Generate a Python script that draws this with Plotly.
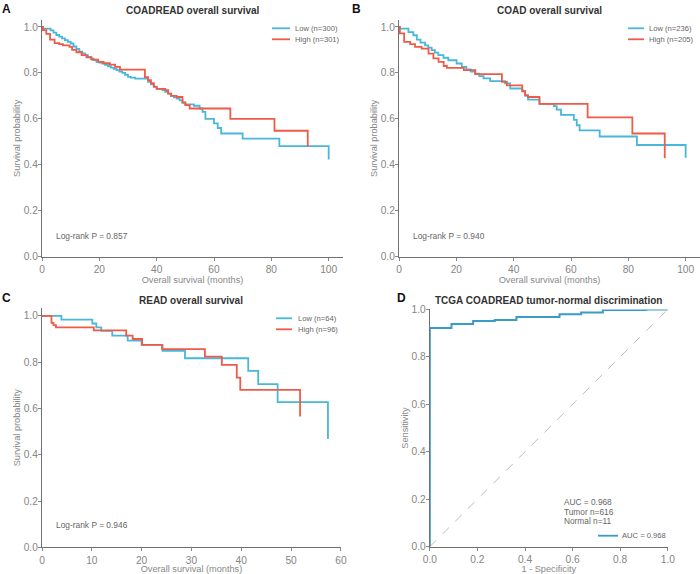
import plotly.graph_objects as go

# ---- panel A: COADREAD overall survival (Kaplan-Meier steps)
a_low_t = [0, 0.3, 3, 4, 5, 6, 7, 8, 9, 10, 11, 12, 13, 14, 15, 16, 17, 18, 19, 20,
           21, 22, 23, 24, 25, 26, 27, 28, 29, 30, 31, 32.5, 37, 38, 39, 40, 42, 43,
           44, 45, 46, 47, 48, 49, 50, 53, 55, 56, 57, 60, 61.3, 62.5, 70, 82.8, 100]
a_low_s = [1.0, 0.993, 0.985, 0.975, 0.965, 0.958, 0.95, 0.943, 0.935, 0.928, 0.915,
           0.905, 0.893, 0.885, 0.877, 0.87, 0.862, 0.856, 0.848, 0.845, 0.84, 0.835,
           0.829, 0.823, 0.818, 0.812, 0.806, 0.8, 0.792, 0.783, 0.779, 0.775, 0.761,
           0.75, 0.739, 0.73, 0.725, 0.718, 0.71, 0.7, 0.693, 0.688, 0.68, 0.67, 0.663,
           0.657, 0.645, 0.63, 0.6, 0.58, 0.56, 0.536, 0.514, 0.481, 0.423]
a_high_t = [0, 0.3, 1.5, 2.8, 4.4, 6, 7.3, 9.6, 10.5, 12, 13.8, 15.5, 17.3, 19.6, 21.5,
            23.7, 25.5, 27.2, 35.9, 37, 38, 39, 40, 43, 44, 45, 47, 49, 50, 51.5, 65.7,
            81.1, 92.7]
a_high_s = [1.0, 0.986, 0.97, 0.945, 0.93, 0.925, 0.92, 0.913, 0.9, 0.89, 0.877, 0.868,
            0.858, 0.848, 0.842, 0.836, 0.826, 0.814, 0.782, 0.768, 0.755, 0.74, 0.73,
            0.725, 0.71, 0.7, 0.695, 0.672, 0.66, 0.645, 0.6, 0.548, 0.478]

# ---- panel B: COAD overall survival
b_low_t = [0, 0.3, 3.3, 5, 6.2, 7.5, 9.1, 10.2, 11.4, 12.5, 13.7, 15.5, 17.2, 20.1,
           21.9, 23.5, 25, 26.6, 28, 29.5, 31.8, 37, 38.8, 43, 44, 45, 49, 54, 55,
           56.5, 61, 62, 63, 70, 83, 100]
b_low_s = [1.0, 0.993, 0.978, 0.964, 0.945, 0.932, 0.92, 0.91, 0.899, 0.888, 0.877,
           0.866, 0.855, 0.841, 0.826, 0.815, 0.806, 0.797, 0.786, 0.776, 0.764, 0.754,
           0.732, 0.722, 0.7, 0.684, 0.665, 0.655, 0.64, 0.617, 0.595, 0.572, 0.55,
           0.523, 0.486, 0.43]
b_high_t = [0, 0.3, 1.8, 3.9, 5.6, 7.9, 10.3, 12, 13.8, 15.6, 16.7, 22.6, 26.6, 35.9,
            37.6, 43, 44, 45, 49, 65.8, 81.4, 92.7]
b_high_s = [1.0, 0.972, 0.935, 0.925, 0.913, 0.906, 0.884, 0.863, 0.848, 0.83, 0.822,
            0.812, 0.795, 0.761, 0.746, 0.72, 0.703, 0.695, 0.665, 0.606, 0.536, 0.428]

# ---- panel C: READ overall survival
c_low_t = [0, 3.9, 10.1, 10.9, 11.9, 14.1, 17.2, 20, 24.2, 28.7, 41.4, 43.4, 47.3, 57.4]
c_low_s = [1.0, 0.984, 0.967, 0.95, 0.935, 0.915, 0.893, 0.875, 0.849, 0.817, 0.762,
           0.705, 0.627, 0.468]
c_high_t = [0, 1.9, 2.3, 2.8, 10.4, 16.9, 18.2, 20.1, 24.1, 32.7, 36.1, 39.1, 39.8, 51.8]
c_high_s = [1.0, 0.97, 0.96, 0.95, 0.937, 0.915, 0.9, 0.875, 0.856, 0.824, 0.788, 0.733,
            0.68, 0.565]

# ---- panel D: ROC, tumor vs normal
roc_fpr = [0, 0, 0.091, 0.182, 0.273, 0.364, 0.545, 0.636, 0.727, 0.909, 1.0]
roc_tpr = [0, 0.922, 0.938, 0.951, 0.955, 0.968, 0.979, 0.987, 0.997, 1.0, 1.0]

low_col = "#48B7DA"
high_col = "#EF5B47"
roc_col = "#3A9CC6"
FONT = "Liberation Sans, Arial, sans-serif"
W, H = 700, 574

fig = go.Figure()


def km(t, s, name, color, xa, ya):
    fig.add_trace(go.Scatter(x=t, y=s, mode="lines", line_shape="hv", name=name,
                             line=dict(color=color, width=1.8), xaxis=xa, yaxis=ya,
                             showlegend=False))


km(a_low_t, a_low_s, "Low (n=300)", low_col, "x", "y")
km(a_high_t, a_high_s, "High (n=301)", high_col, "x", "y")
km(b_low_t, b_low_s, "Low (n=236)", low_col, "x2", "y2")
km(b_high_t, b_high_s, "High (n=205)", high_col, "x2", "y2")
km(c_low_t, c_low_s, "Low (n=64)", low_col, "x3", "y3")
km(c_high_t, c_high_s, "High (n=96)", high_col, "x3", "y3")

fig.add_trace(go.Scatter(x=[0, 1], y=[0, 1], mode="lines", showlegend=False,
                         line=dict(color="#aaaaaa", width=0.8, dash="dash"),
                         xaxis="x4", yaxis="y4"))
fig.add_trace(go.Scatter(x=roc_fpr, y=roc_tpr, mode="lines", line_shape="hv",
                         name="AUC = 0.968", line=dict(color=roc_col, width=2),
                         xaxis="x4", yaxis="y4", showlegend=False))

ax = dict(showline=True, linecolor="#707070", linewidth=1.2, ticks="outside", ticklen=3,
          tickcolor="#888888", showgrid=False, zeroline=False, automargin=False,
          tickfont=dict(size=10.2, color="#858585"),
          title_font=dict(size=9.2, color="#888888"), title_standoff=1)
yax = dict(ax, tickformat=".1f", dtick=0.2, ticklabelstandoff=-2)

fig.update_layout(
    template="none",
    width=W, height=H, margin=dict(l=0, r=0, t=0, b=0, pad=0),
    paper_bgcolor="white", plot_bgcolor="white",
    font=dict(family=FONT, color="#555555"),
    showlegend=False,
    xaxis=dict(ax, domain=[0.06, 0.49], range=[0, 105], dtick=20, anchor="y",
               title_text="Overall survival (months)"),
    yaxis=dict(yax, domain=[0.553, 0.965], range=[0, 1.03], anchor="x",
               title_text="Survival probability"),
    xaxis2=dict(ax, domain=[0.57, 1.0], range=[0, 105], dtick=20, anchor="y2",
                title_text="Overall survival (months)"),
    yaxis2=dict(yax, domain=[0.553, 0.965], range=[0, 1.03], anchor="x2",
                title_text="Survival probability"),
    xaxis3=dict(ax, domain=[0.06, 0.487], range=[0, 60], dtick=10, anchor="y3",
                title_text="Overall survival (months)"),
    yaxis3=dict(yax, domain=[0.0465, 0.463], range=[0, 1.033], anchor="x3",
                title_text="Survival probability"),
    xaxis4=dict(ax, domain=[0.614, 0.954], range=[0, 1], dtick=0.2, tickformat=".1f",
                anchor="y4", title_text="1 - Specificity"),
    yaxis4=dict(yax, domain=[0.0476, 0.461], range=[0, 1], anchor="x4",
                title_text="Sensitivity"),
)

# hand-placed compact legends (pixel positions from the reference)
legends = [
    (272, 290, 293, [(28.3, low_col, "Low (n=300)"), (39.3, high_col, "High (n=301)")]),
    (628, 644, 647, [(28.3, low_col, "Low (n=236)"), (39.3, high_col, "High (n=205)")]),
    (276, 292, 296, [(318.3, low_col, "Low (n=64)"), (329.3, high_col, "High (n=96)")]),
    (598, 618, 620, [(535.7, roc_col, "AUC = 0.968")]),
]
for x0, x1, xt, items in legends:
    for py, col, label in items:
        yp = 1 - py / H
        fig.add_shape(type="line", xref="paper", yref="paper", x0=x0 / W, x1=x1 / W,
                      y0=yp, y1=yp, line=dict(color=col, width=1.8))
        fig.add_annotation(text=label, xref="paper", yref="paper", x=xt / W, y=yp,
                           xanchor="left", yanchor="middle", showarrow=False,
                           font=dict(size=7.6, color="#666666"))

titles = [("COADREAD overall survival", "x", 0.981),
          ("COAD overall survival", "x2", 0.981),
          ("READ overall survival", "x3", 0.477),
          ("TCGA COADREAD tumor-normal discrimination", "x4", 0.477)]
for txt, xa, yy in titles:
    fig.add_annotation(text="<b>%s</b>" % txt, xref=xa + " domain", x=0.5, yref="paper",
                       y=yy, yanchor="middle", showarrow=False,
                       font=dict(size=10, color="#333333"))

for letter, xx, yy in [("A", 0.0, 1.0), ("B", 0.5, 1.0), ("C", 0.0, 0.4965),
                       ("D", 0.565, 0.4965)]:
    fig.add_annotation(text="<b>%s</b>" % letter, xref="paper", yref="paper", x=xx, y=yy,
                       xanchor="left", yanchor="top", showarrow=False,
                       font=dict(size=12, color="#111111"))

for p, xa, ya, yy in [("0.857", "x", "y", 0.087), ("0.940", "x2", "y2", 0.087),
                      ("0.946", "x3", "y3", 0.093)]:
    fig.add_annotation(text="Log-rank P = " + p, xref=xa + " domain", yref=ya + " domain",
                       x=0.04, y=yy, xanchor="left", yanchor="middle", showarrow=False,
                       font=dict(size=8.4, color="#666666"))

for txt, yy in [("AUC = 0.968", 0.187), ("Tumor n=616", 0.147), ("Normal n=11", 0.109)]:
    fig.add_annotation(text=txt, xref="x4 domain", yref="y4 domain", x=0.555, y=yy,
                       xanchor="left", yanchor="middle", showarrow=False,
                       font=dict(size=8.3, color="#666666"))

# the page body has a default 8px margin; drop it so the figure fills the window
fig.write_html("out.html", config={"displayModeBar": False},
               post_script="document.body.style.margin='0';document.body.style.overflow='hidden';")
